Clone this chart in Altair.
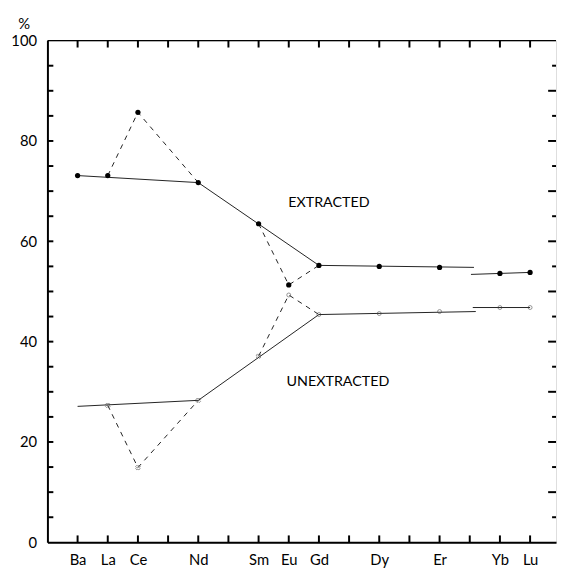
import altair as alt
import pandas as pd

# Elements and atomic numbers (x positions)
elements = ["Ba", "La", "Ce", "Nd", "Sm", "Eu", "Gd", "Dy", "Er", "Yb", "Lu"]
atomic = [56, 57, 58, 60, 62, 63, 64, 66, 68, 70, 71]

extracted = [73.1, 73.1, 85.7, 71.7, 63.5, 51.3, 55.2, 55.0, 54.8, 53.6, 53.8]
unextracted = [None, 27.3, 14.9, 28.3, 37.1, 49.3, 45.4, 45.6, 46.0, 46.8, 46.8]
unext_shape = ["", "cross", "cross", "cross", "cross", "circle", "circle", "circle", "circle", "circle", "circle"]

# Solid trend segments: (segment id, x, y)
ext_solid_seg = [1, 1, 2, 2, 3, 3, 4, 4]
ext_solid_x = [56, 60, 60, 64, 64, 69.14, 69.04, 71]
ext_solid_y = [73.1, 71.7, 71.7, 55.2, 55.2, 54.8, 53.4, 53.8]
une_solid_seg = [1, 1, 2, 2, 3, 3, 4, 4]
une_solid_x = [56, 60, 60, 64, 64, 69.2, 69.1, 71]
une_solid_y = [27.1, 28.3, 28.3, 45.4, 45.4, 46.0, 46.8, 46.8]

# Dashed segments
ext_dash_seg = [1, 1, 1, 2, 2, 2]
ext_dash_x = [57, 58, 60, 62, 63, 64]
ext_dash_y = [73.1, 85.7, 71.7, 63.5, 51.3, 55.2]
une_dash_seg = [1, 1, 1, 2, 2, 2]
une_dash_x = [57, 58, 60, 62, 63, 64]
une_dash_y = [27.3, 14.9, 28.3, 37.1, 49.3, 45.4]

labels = ["EXTRACTED", "UNEXTRACTED"]
label_x = [64.33, 64.63]
label_y = [67.6, 32.0]

x_ticks = list(range(56, 72))
y_ticks = list(range(5, 100, 5))
y_labels = [0, 20, 40, 60, 80, 100]

XMIN, XMAX = 55, 71.86
W, H = 516, 509
FONT = "Lato"

xs = alt.Scale(domain=[XMIN, XMAX], nice=False, zero=False)
ys = alt.Scale(domain=[0, 100], nice=False)

label_expr = " : ".join(
    f"datum.value == {a} ? '{e}'" for a, e in zip(atomic, elements)
) + " : ''"

x_axis = alt.Axis(values=atomic, labelExpr=label_expr, ticks=False, grid=False,
                  domainColor="black", domainWidth=2, labelFontSize=15,
                  labelPadding=10, labelColor="black", labelFont=FONT, title=None)
y_axis = alt.Axis(values=y_labels, ticks=False, grid=False, domainColor="black",
                  domainWidth=2, labelFontSize=15, labelPadding=11,
                  labelColor="black", labelFont=FONT, title="%", titleAngle=0,
                  titleX=-24, titleY=-17, titleFontSize=15, titleFontWeight="normal",
                  titleFont=FONT, titleAlign="center", titleBaseline="middle")

X = lambda f="x": alt.X(f"{f}:Q", scale=xs, axis=x_axis)
Y = lambda f="y": alt.Y(f"{f}:Q", scale=ys, axis=y_axis)

pts = pd.DataFrame({"x": atomic, "ext": extracted, "une": unextracted, "shape": unext_shape})

def seg_df(seg, x, y):
    return pd.DataFrame({"seg": seg, "x": x, "y": y})

solid = pd.concat([seg_df(ext_solid_seg, ext_solid_x, ext_solid_y).assign(s="e"),
                   seg_df(une_solid_seg, une_solid_x, une_solid_y).assign(s="u")])
solid["g"] = solid["s"] + solid["seg"].astype(str)
dashed = pd.concat([seg_df(ext_dash_seg, ext_dash_x, ext_dash_y).assign(s="e"),
                    seg_df(une_dash_seg, une_dash_x, une_dash_y).assign(s="u")])
dashed["g"] = dashed["s"] + dashed["seg"].astype(str)

solid_l = alt.Chart(solid).mark_line(color="#222", strokeWidth=1).encode(
    x=X(), y=Y(), detail="g:N", order="x:Q")
dash_l = alt.Chart(dashed).mark_line(color="#222", strokeWidth=1, strokeDash=[5, 5]).encode(
    x=X(), y=Y(), detail="g:N", order="x:Q")

ext_pts = alt.Chart(pts).mark_point(filled=True, color="black", size=28, opacity=1).encode(
    x=X(), y=Y("ext"))
une_circ = alt.Chart(pts).transform_filter("datum.shape == 'circle'").mark_point(
    shape="circle", filled=False, color="#444", size=16, strokeWidth=0.8).encode(x=X(), y=Y("une"))
une_cross = alt.Chart(pts).transform_filter("datum.shape == 'cross'").mark_point(
    shape="cross", filled=False, color="#444", size=22, strokeWidth=0.8, angle=45).encode(
    x=X(), y=Y("une"))

lab = alt.Chart(pd.DataFrame({"t": labels, "x": label_x, "y": label_y})).mark_text(
    fontSize=14.5, font=FONT, color="black", align="center", baseline="middle").encode(
    x=X(), y=Y(), text="t:N")

# tick marks drawn inward
tlen_y = 7 / (H / 100)
xt = pd.DataFrame({"x": x_ticks})
bt = alt.Chart(xt).transform_calculate(y0="0", y1=str(tlen_y)).mark_rule(
    color="black", strokeWidth=2).encode(x=X(), y=Y("y0"), y2="y1:Q")
tt = alt.Chart(xt).transform_calculate(y0="100", y1=str(100 - tlen_y)).mark_rule(
    color="black", strokeWidth=2).encode(x=X(), y=Y("y0"), y2="y1:Q")

upx = (XMAX - XMIN) / W
yt = pd.DataFrame({"y": y_ticks})
lt = alt.Chart(yt).transform_calculate(x0=str(XMIN), x1=str(XMIN + 6 * upx)).mark_rule(
    color="black", strokeWidth=2).encode(y=Y(), x=X("x0"), x2="x1:Q")
rt = alt.Chart(yt).transform_calculate(
    x0=str(XMAX), x1=f"datum.y % 10 == 0 ? {XMAX - 8 * upx} : {XMAX - 4 * upx}").mark_rule(
    color="black", strokeWidth=2).encode(y=Y(), x=X("x0"), x2="x1:Q")

top = alt.Chart(pd.DataFrame({"x0": [XMIN], "x1": [XMAX], "y": [100]})).mark_rule(
    color="black", strokeWidth=1.5).encode(y=Y(), x=X("x0"), x2="x1:Q")

chart = alt.layer(top, bt, tt, lt, rt, solid_l, dash_l, ext_pts, une_circ, une_cross, lab).properties(
    width=W, height=H,
    autosize=alt.AutoSizeParams(type="none"),
    padding={"left": 40, "top": 29, "right": 2, "bottom": 25},
).configure_view(stroke=None).configure(background="white")

chart.save("out.html", embed_options={"renderer": "svg", "actions": False})
